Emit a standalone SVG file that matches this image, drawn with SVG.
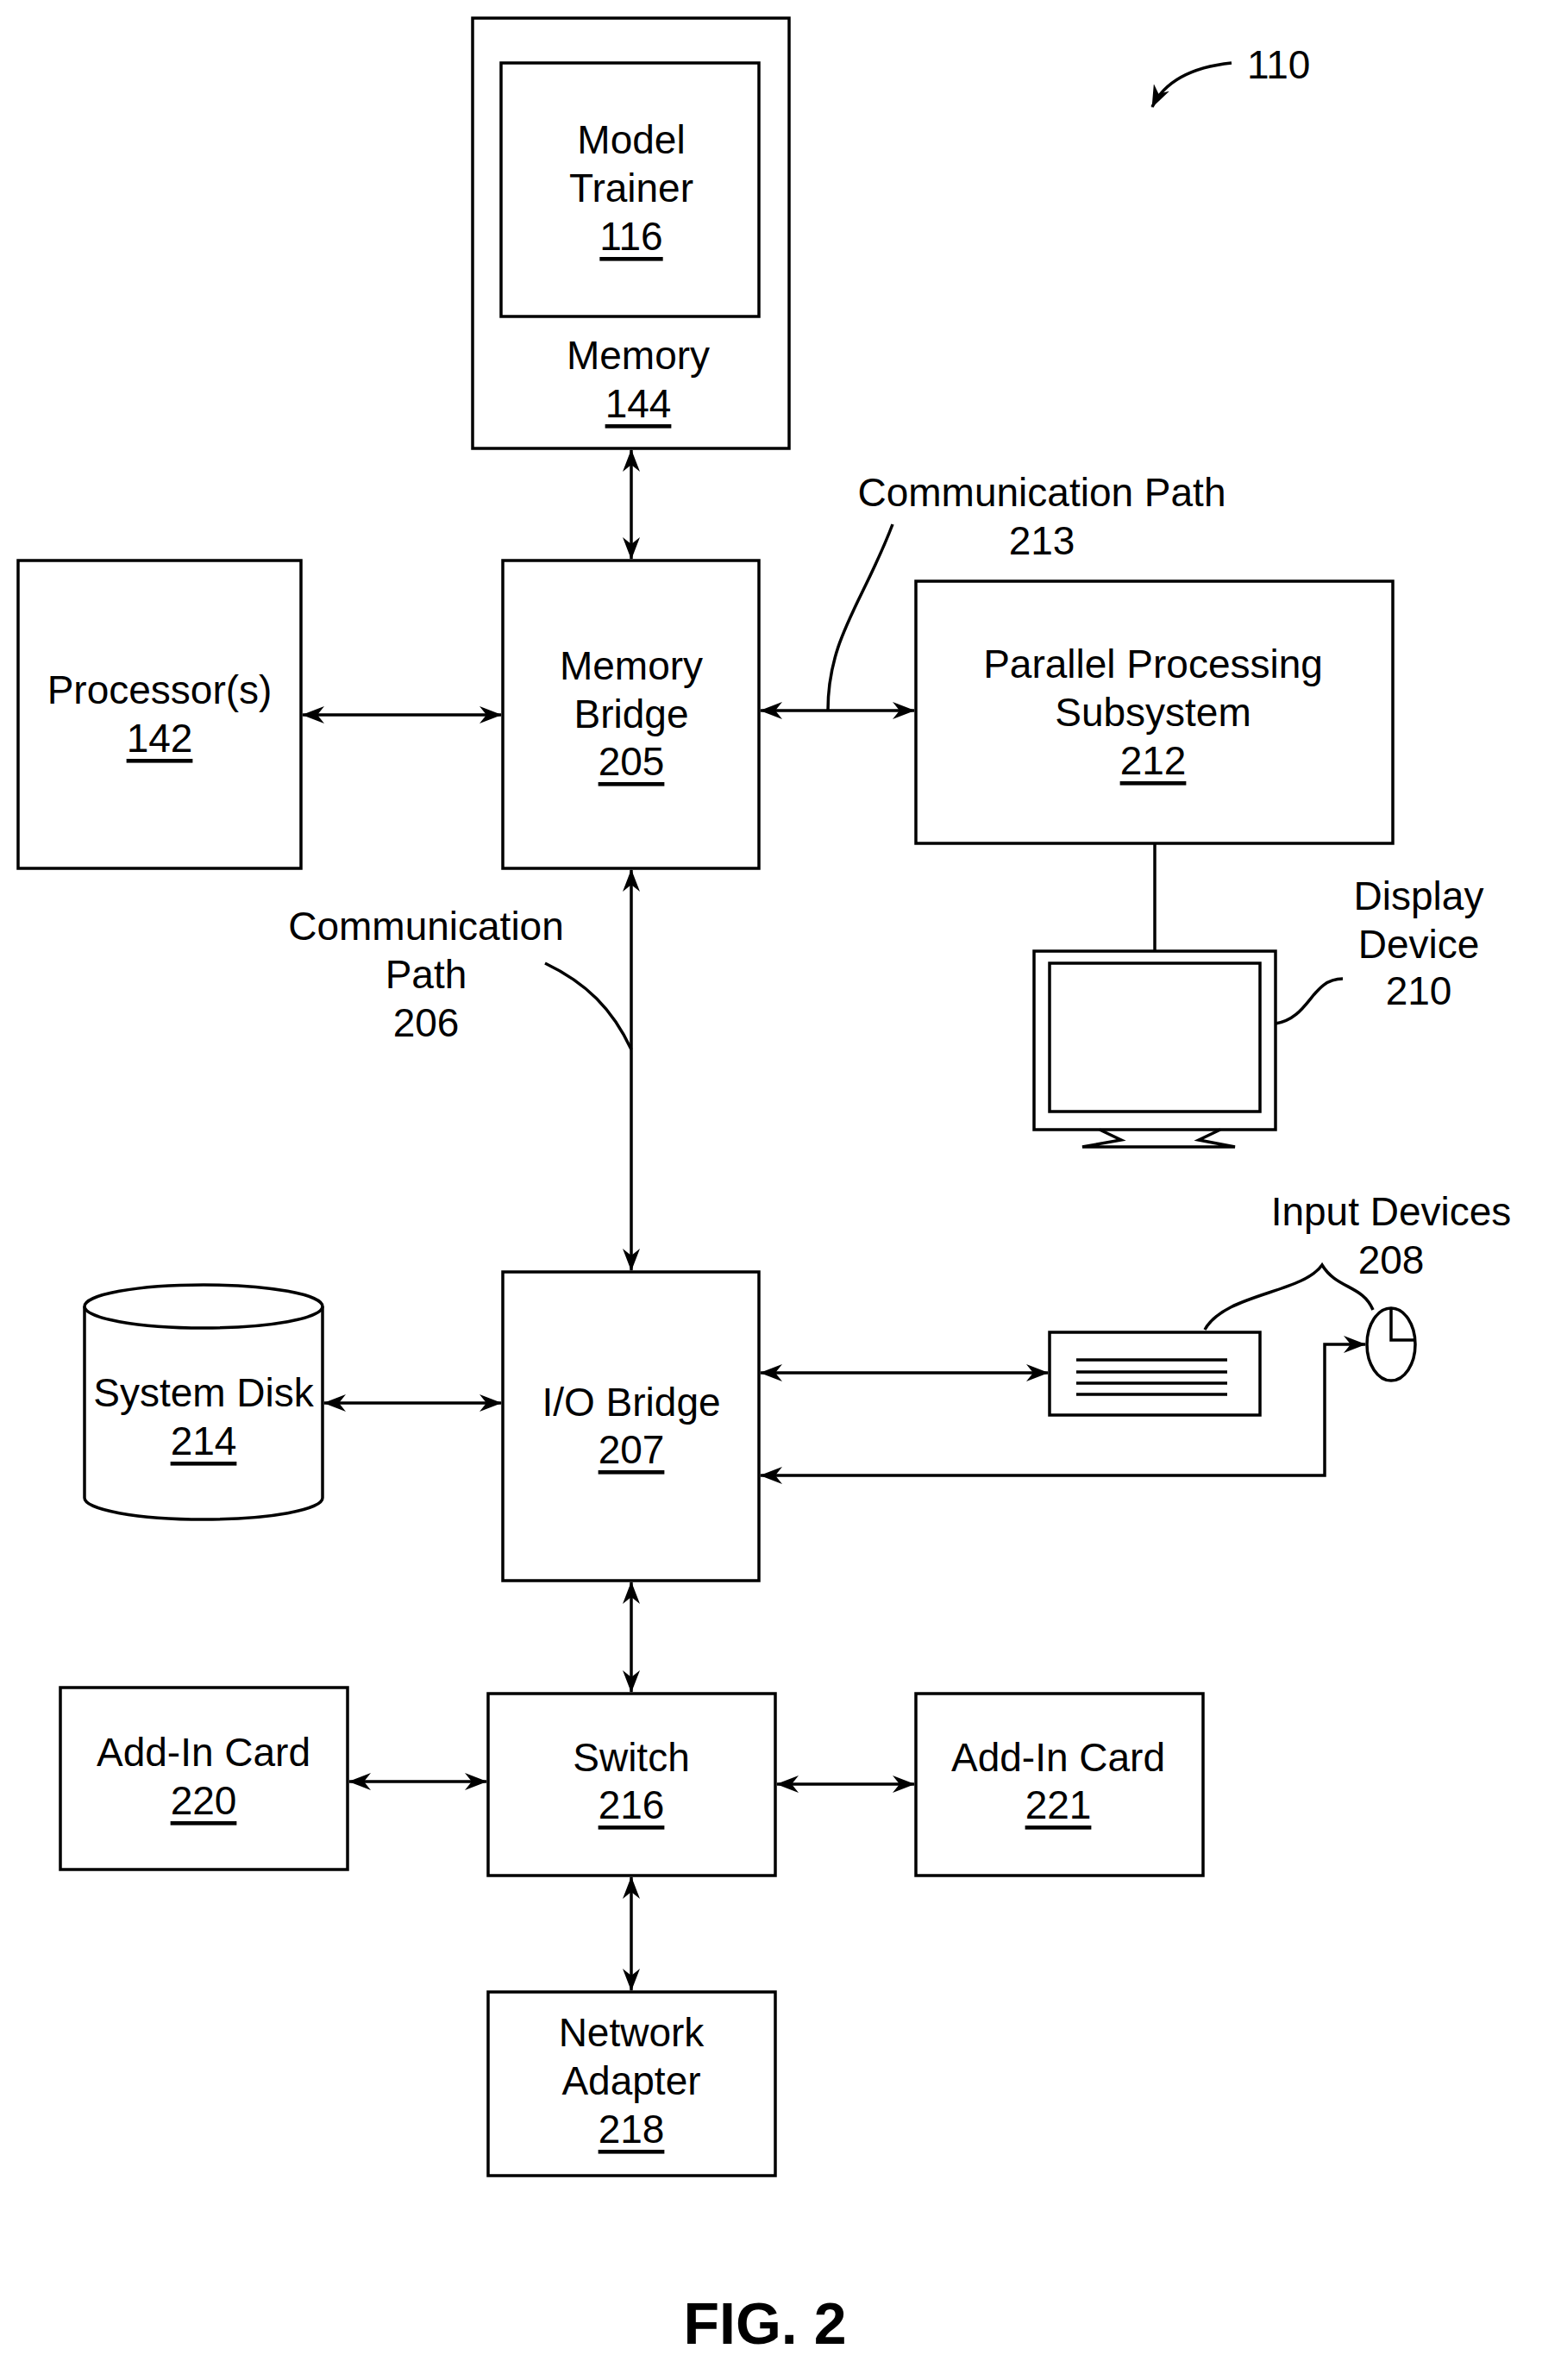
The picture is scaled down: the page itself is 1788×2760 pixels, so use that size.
<svg xmlns="http://www.w3.org/2000/svg" width="1788" height="2760" viewBox="0 0 1788 2760">
<style>
.b{fill:#fff;stroke:#000;stroke-width:3.5}
.l{fill:none;stroke:#000;stroke-width:3.5}
text{font-family:"Liberation Sans",Arial,sans-serif;font-size:46px;text-anchor:middle;fill:#000;dominant-baseline:central}
.u{text-decoration:underline}
</style>
<defs>
<marker id="a" viewBox="0 0 26 20" refX="25" refY="10" markerWidth="26" markerHeight="20" markerUnits="userSpaceOnUse" orient="auto-start-reverse">
<path d="M0,0 L26,10 L0,20 L8,10 Z" fill="#000"/>
</marker>
</defs>
<rect width="1788" height="2760" fill="#fff"/>
<g id="connectors">
<line class="l" x1="732" y1="522" x2="732" y2="648" marker-start="url(#a)" marker-end="url(#a)"/>
<line class="l" x1="351" y1="829" x2="581" y2="829" marker-start="url(#a)" marker-end="url(#a)"/>
<line class="l" x1="882" y1="824" x2="1060" y2="824" marker-start="url(#a)" marker-end="url(#a)"/>
<line class="l" x1="732" y1="1009" x2="732" y2="1473" marker-start="url(#a)" marker-end="url(#a)"/>
<line class="l" x1="1339" y1="978" x2="1339" y2="1103"/>
<line class="l" x1="376" y1="1627" x2="581" y2="1627" marker-start="url(#a)" marker-end="url(#a)"/>
<line class="l" x1="882" y1="1592" x2="1215" y2="1592" marker-start="url(#a)" marker-end="url(#a)"/>
<path class="l" d="M882,1711 L1536,1711 L1536,1559 L1583,1559" marker-start="url(#a)" marker-end="url(#a)"/>
<line class="l" x1="732" y1="1835" x2="732" y2="1962" marker-start="url(#a)" marker-end="url(#a)"/>
<line class="l" x1="405" y1="2066" x2="564" y2="2066" marker-start="url(#a)" marker-end="url(#a)"/>
<line class="l" x1="901" y1="2069" x2="1060" y2="2069" marker-start="url(#a)" marker-end="url(#a)"/>
<line class="l" x1="732" y1="2177" x2="732" y2="2308" marker-start="url(#a)" marker-end="url(#a)"/>
<path class="l" d="M1035,608 C1000,700 960,740 960,824"/>
<path class="l" d="M632,1117 C680,1140 710,1170 732,1217"/>
<path class="l" d="M1479,1187 C1520,1180 1520,1135 1557,1135"/>
<path class="l" d="M1397,1542 C1420,1500 1510,1500 1533,1467 C1550,1495 1580,1490 1592,1519"/>
<path class="l" d="M1428,73 C1380,78 1350,95 1336,124" marker-end="url(#a)"/>
</g>
<g id="memory144">
<rect class="b" x="548" y="21" width="367" height="499"/>
<rect class="b" x="581" y="73" width="299" height="294"/>
<text x="732" y="162">Model</text><text x="732" y="218">Trainer</text><text x="732" y="274" class="u">116</text>
<text x="740" y="412">Memory</text><text x="740" y="468" class="u">144</text>
</g>
<g id="processor142"><rect class="b" x="21" y="650" width="328" height="357"/>
<text x="185" y="800">Processor(s)</text><text x="185" y="856" class="u">142</text></g>
<g id="bridge205"><rect class="b" x="583" y="650" width="297" height="357"/>
<text x="732" y="772">Memory</text><text x="732" y="828">Bridge</text><text x="732" y="883" class="u">205</text></g>
<g id="pps212"><rect class="b" x="1062" y="674" width="553" height="304"/>
<text x="1337" y="770">Parallel Processing</text><text x="1337" y="826">Subsystem</text><text x="1337" y="882" class="u">212</text></g>
<g id="label213"><text x="1208" y="571">Communication Path</text><text x="1208" y="627">213</text></g>
<g id="label206"><text x="494" y="1074">Communication</text><text x="494" y="1130">Path</text><text x="494" y="1186">206</text></g>
<g id="display210">
<rect class="b" x="1199" y="1103" width="280" height="207"/>
<rect class="b" x="1217" y="1117" width="244" height="172"/>
<path class="l" d="M1275,1310 L1300,1322 L1255,1330 L1432,1330 L1390,1322 L1415,1310"/>
<text x="1645" y="1039">Display</text><text x="1645" y="1095">Device</text><text x="1645" y="1149">210</text>
</g>
<g id="input208">
<rect class="b" x="1217" y="1545" width="244" height="96"/>
<path class="l" d="M1248,1577H1423M1248,1591H1423M1248,1604H1423M1248,1617H1423"/>
<ellipse class="b" cx="1613" cy="1559" rx="28" ry="42"/>
<path class="l" d="M1613,1517V1554H1640"/>
<text x="1613" y="1405">Input Devices</text><text x="1613" y="1461">208</text>
</g>
<g id="disk214">
<path class="b" d="M98,1515 V1737 A138,25 0 0 0 374,1737 V1515"/>
<ellipse class="b" cx="236" cy="1515" rx="138" ry="25"/>
<text x="236" y="1615">System Disk</text><text x="236" y="1671" class="u">214</text>
</g>
<g id="io207"><rect class="b" x="583" y="1475" width="297" height="358"/>
<text x="732" y="1626">I/O Bridge</text><text x="732" y="1681" class="u">207</text></g>
<g id="card220"><rect class="b" x="70" y="1957" width="333" height="211"/>
<text x="236" y="2032">Add-In Card</text><text x="236" y="2088" class="u">220</text></g>
<g id="switch216"><rect class="b" x="566" y="1964" width="333" height="211"/>
<text x="732" y="2038">Switch</text><text x="732" y="2093" class="u">216</text></g>
<g id="card221"><rect class="b" x="1062" y="1964" width="333" height="211"/>
<text x="1227" y="2038">Add-In Card</text><text x="1227" y="2093" class="u">221</text></g>
<g id="net218"><rect class="b" x="566" y="2310" width="333" height="213"/>
<text x="732" y="2357">Network</text><text x="732" y="2413">Adapter</text><text x="732" y="2469" class="u">218</text></g>
<g id="label110"><text x="1446" y="75" style="text-anchor:start">110</text></g>
<text x="887" y="2694" style="font-weight:bold;font-size:68px">FIG. 2</text>
</svg>
